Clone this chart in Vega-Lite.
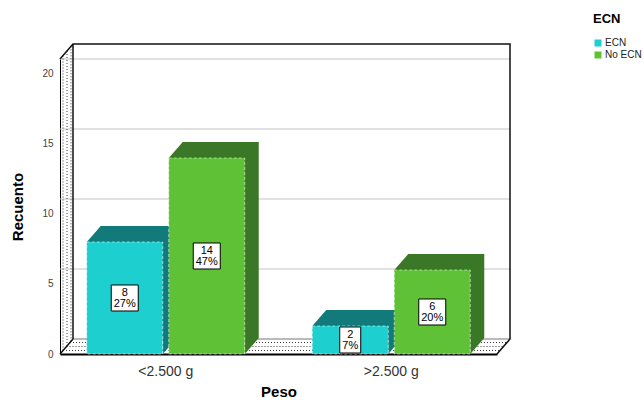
{
  "$schema": "https://vega.github.io/schema/vega-lite/v6.json",
  "width": 437,
  "height": 295,
  "autosize": {"type": "none"},
  "padding": {"left": 60, "top": 59, "right": 147, "bottom": 52},
  "background": "white",
  "config": {
    "view": {"stroke": null},
    "font": "Liberation Sans",
    "text": {"font": "Liberation Sans"},
    "axisY": {
      "grid": false, "ticks": false, "domainColor": "#000000", "domainWidth": 1,
      "labelFontSize": 10, "labelColor": "#444444", "labelPadding": 7,
      "titleFontSize": 15, "titleFontWeight": "bold", "titleColor": "#000000", "titlePadding": 16
    },
    "axisX": {
      "labelAngle": 0, "ticks": false, "domainColor": "#000000", "domainWidth": 2,
      "labelFontSize": 14, "labelColor": "#333333", "labelPadding": 10,
      "titleFontSize": 15, "titleFontWeight": "bold", "titleColor": "#000000", "titlePadding": 6, "zindex": 1
    }
  },
  "datasets": {
    "recuentos": [
      {"Peso": "<2.500 g", "ECN": "ECN", "Recuento": 8, "Porcentaje": 27},
      {"Peso": "<2.500 g", "ECN": "No ECN", "Recuento": 14, "Porcentaje": 47},
      {"Peso": ">2.500 g", "ECN": "ECN", "Recuento": 2, "Porcentaje": 7},
      {"Peso": ">2.500 g", "ECN": "No ECN", "Recuento": 6, "Porcentaje": 20}
    ],
    "marcas": [{"v": 5}, {"v": 10}, {"v": 15}, {"v": 20}],
    "caja": [{"pieza": "caja"}]
  },
  "resolve": {"scale": {"xOffset": "independent"}},
  "layer": [
    {
      "description": "back wall gridlines",
      "data": {"name": "marcas"},
      "mark": {"type": "rule", "color": "#c4c4c4", "strokeWidth": 1, "xOffset": 13, "x2Offset": 13, "yOffset": -15, "y2Offset": -15},
      "encoding": {
        "y": {"field": "v", "type": "quantitative", "title": "Recuento", "scale": {"domain": [0, 21.0714], "nice": false}, "axis": {"values": [0, 5, 10, 15, 20]}}
      }
    },
    {
      "description": "stippled side wall",
      "data": {"name": "caja"},
      "mark": {"type": "point", "filled": false, "opacity": 1, "size": 4, "stroke": "#3a3a3a", "strokeWidth": 1, "strokeDash": [1, 2],
               "shape": "M3,-3.5L3,-298.5M7,-8L7,-303M11,-12.7L11,-307.7"},
      "encoding": {
        "x": {"value": 0},
        "y": {"datum": 0, "type": "quantitative", "title": "Recuento"}
      }
    },
    {
      "description": "stippled floor",
      "data": {"name": "caja"},
      "mark": {"type": "point", "filled": false, "opacity": 1, "size": 4, "stroke": "#3a3a3a", "strokeWidth": 1, "strokeDash": [1, 2],
               "shape": "M3,-3.5L440,-3.5M6.5,-7.5L443.5,-7.5M10,-11.5L447,-11.5"},
      "encoding": {
        "x": {"value": 0},
        "y": {"datum": 0, "type": "quantitative", "title": "Recuento"}
      }
    },
    {
      "description": "floor back edge",
      "data": {"name": "caja"},
      "mark": {"type": "point", "filled": false, "opacity": 1, "size": 4, "stroke": "#777777", "strokeWidth": 1, "shape": "M13,-15L450,-15"},
      "encoding": {
        "x": {"value": 0},
        "y": {"datum": 0, "type": "quantitative", "title": "Recuento"}
      }
    },
    {
      "description": "box frame: side wall diagonals and back wall",
      "data": {"name": "caja"},
      "mark": {"type": "point", "filled": false, "opacity": 1, "size": 4, "stroke": "#111111", "strokeWidth": 1.5,
               "shape": "M0,-295L13,-310L450,-310L450,-15L437,0M13,-15L13,-310M0,0L13,-15"},
      "encoding": {
        "x": {"value": 0},
        "y": {"datum": 0, "type": "quantitative", "title": "Recuento"}
      }
    },
    {
      "description": "side faces of the bars (darker shade of each series)",
      "data": {"name": "recuentos"},
      "mark": {"type": "bar", "yOffset": -16, "y2Offset": -16},
      "encoding": {
        "x": {"field": "Peso", "type": "nominal", "title": "Peso", "scale": {"paddingInner": 0.2993, "paddingOuter": 0.1186}},
        "xOffset": {"field": "ECN", "type": "nominal", "scale": {"type": "band", "paddingInner": 0.0732, "paddingOuter": 0, "range": [14, 172]}},
        "y": {"field": "Recuento", "type": "quantitative", "title": "Recuento"},
        "fill": {
          "field": "ECN", "type": "nominal", "legend": null,
          "scale": {"domain": ["No ECN", "ECN"], "range": ["#3a7726", "#137a7b"]}
        }
      }
    },
    {
      "description": "top faces of the bars",
      "data": {"name": "recuentos"},
      "mark": {"type": "point", "filled": true, "opacity": 1, "size": 4, "shape": "M-38,0L38,0L52,-16L-24,-16Z", "strokeWidth": 0},
      "encoding": {
        "x": {"field": "Peso", "type": "nominal", "title": "Peso"},
        "xOffset": {"field": "ECN", "type": "nominal", "scale": {"type": "band", "paddingInner": 0.0732, "paddingOuter": 0}},
        "y": {"field": "Recuento", "type": "quantitative", "title": "Recuento"},
        "fill": {"field": "ECN", "type": "nominal", "legend": null}
      }
    },
    {
      "description": "lower corner of the side faces",
      "data": {"name": "recuentos"},
      "mark": {"type": "point", "filled": true, "opacity": 1, "size": 4, "shape": "M38,0L38,-16L52,-16Z", "strokeWidth": 0},
      "encoding": {
        "x": {"field": "Peso", "type": "nominal", "title": "Peso"},
        "xOffset": {"field": "ECN", "type": "nominal", "scale": {"type": "band", "paddingInner": 0.0732, "paddingOuter": 0}},
        "y": {"datum": 0, "type": "quantitative", "title": "Recuento"},
        "fill": {"field": "ECN", "type": "nominal", "legend": null}
      }
    },
    {
      "description": "front faces of the bars",
      "data": {"name": "recuentos"},
      "mark": {"type": "bar", "stroke": "#ffffff", "strokeOpacity": 0.55, "strokeDash": [3, 2], "strokeWidth": 1},
      "encoding": {
        "x": {"field": "Peso", "type": "nominal", "title": "Peso"},
        "xOffset": {"field": "ECN", "type": "nominal", "scale": {"type": "band", "paddingInner": 0.0732, "paddingOuter": 0}},
        "y": {"field": "Recuento", "type": "quantitative", "title": "Recuento"},
        "color": {
          "field": "ECN", "type": "nominal",
          "scale": {"domain": ["ECN", "No ECN"], "range": ["#1dcfcf", "#5fc236"]},
          "legend": {
            "title": "ECN", "orient": "none", "legendX": 533, "legendY": -46,
            "titleFontSize": 13, "titleFontWeight": "bold", "titleColor": "#000000", "titlePadding": 12,
            "labelFontSize": 10, "labelColor": "#222222", "labelOffset": 2,
            "symbolType": "square", "symbolSize": 49, "symbolStrokeWidth": 0, "rowPadding": 2
          }
        }
      }
    },
    {
      "description": "value boxes",
      "data": {"name": "recuentos"},
      "transform": [
        {"calculate": "datum.Recuento / 2", "as": "centro"},
        {"calculate": "datum.Porcentaje >= 10 ? 'ancha' : 'estrecha'", "as": "caja"}
      ],
      "mark": {"type": "point", "filled": true, "opacity": 1, "size": 4, "fill": "#ffffff", "stroke": "#000000", "strokeWidth": 1},
      "encoding": {
        "x": {"field": "Peso", "type": "nominal", "title": "Peso"},
        "xOffset": {"field": "ECN", "type": "nominal", "scale": {"type": "band", "paddingInner": 0.0732, "paddingOuter": 0}},
        "y": {"field": "centro", "type": "quantitative", "title": "Recuento"},
        "shape": {
          "field": "caja", "type": "nominal", "legend": null,
          "scale": {
            "domain": ["ancha", "estrecha"],
            "range": ["M-13.5,-13L13.5,-13L13.5,13L-13.5,13Z", "M-10.5,-13L10.5,-13L10.5,13L-10.5,13Z"]
          }
        }
      }
    },
    {
      "description": "count and percentage labels",
      "data": {"name": "recuentos"},
      "transform": [
        {"calculate": "datum.Recuento / 2", "as": "centro"},
        {"calculate": "datum.Recuento + '\\n' + datum.Porcentaje + '%'", "as": "etiqueta"}
      ],
      "mark": {"type": "text", "lineBreak": "\n", "fontSize": 11, "lineHeight": 11, "align": "center", "baseline": "middle", "dy": -5, "color": "#000000"},
      "encoding": {
        "x": {"field": "Peso", "type": "nominal", "title": "Peso"},
        "xOffset": {"field": "ECN", "type": "nominal", "scale": {"type": "band", "paddingInner": 0.0732, "paddingOuter": 0}},
        "y": {"field": "centro", "type": "quantitative", "title": "Recuento"},
        "text": {"field": "etiqueta", "type": "nominal"}
      }
    }
  ]
}
